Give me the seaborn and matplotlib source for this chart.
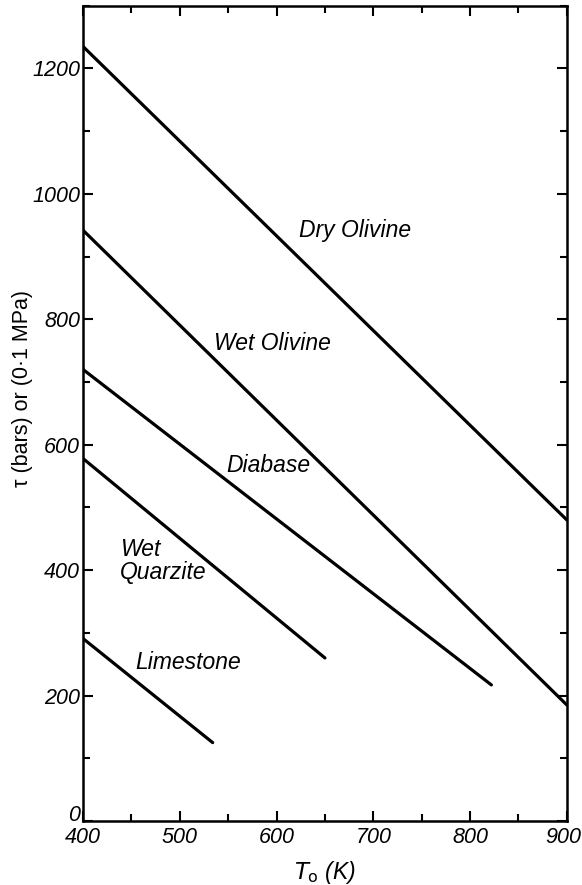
import matplotlib
matplotlib.use("Agg")
import matplotlib.pyplot as plt
from matplotlib.ticker import MultipleLocator
from matplotlib.transforms import ScaledTranslation
import seaborn as sns
import pandas as pd

# Shear stress vs. initial temperature for several rock types
materials = ["Dry Olivine", "Wet Olivine", "Diabase", "Wet Quarzite", "Limestone"]
t_start = [400, 400, 400, 400, 400]
t_end = [900, 900, 822, 650, 534]
tau_start = [1235, 942, 720, 578, 291]
tau_end = [480, 185, 217, 260, 125]

# Label anchor points (data coordinates)
label_text = ["Dry Olivine", "Wet Olivine", "Diabase", "Wet\nQuarzite", "Limestone"]
label_x = [681, 596, 592, 438, 509]
label_y = [942, 762, 567, 415, 253]
label_ha = ["center", "center", "center", "left", "center"]

x_ticks = [400, 500, 600, 700, 800, 900]
y_ticks = [0, 200, 400, 600, 800, 1000, 1200]

rows = []
for m, x0, x1, y0, y1 in zip(materials, t_start, t_end, tau_start, tau_end):
    rows.append({"material": m, "T": x0, "tau": y0})
    rows.append({"material": m, "T": x1, "tau": y1})
df = pd.DataFrame(rows)

sns.set_style("ticks")
fam = ["Liberation Sans", "DejaVu Sans"]
plt.rcParams["font.family"] = fam
for key in ("text.color", "axes.labelcolor", "xtick.color", "ytick.color",
            "axes.edgecolor"):
    plt.rcParams[key] = "black"

fig = plt.figure(figsize=(5.82, 8.85), dpi=100)
ax = fig.add_axes([0.1426, 0.0723, 0.8314, 0.9213])

sns.lineplot(data=df, x="T", y="tau", hue="material", hue_order=materials,
             palette=["black"] * len(materials), linewidth=2.3,
             legend=False, ax=ax, sort=False, estimator=None)

for txt, x, y, ha in zip(label_text, label_x, label_y, label_ha):
    ax.text(x, y, txt, ha=ha, va="center", fontsize=16.5, style="italic",
            family=fam, linespacing=1.0)

ax.set_xlim(400, 900)
ax.set_ylim(0, 1300)
ax.set_xticks(x_ticks)
ax.set_yticks(y_ticks)
ax.xaxis.set_minor_locator(MultipleLocator(50))
ax.yaxis.set_minor_locator(MultipleLocator(100))
ax.tick_params(which="both", direction="in", top=True, right=True,
               width=1.5, color="black")
ax.tick_params(which="major", length=7, labelsize=15.5)
ax.tick_params(which="minor", length=5)
ax.tick_params(axis="y", which="major", pad=2)
ax.tick_params(axis="x", which="major", pad=4)
for lbl in ax.get_xticklabels() + ax.get_yticklabels():
    lbl.set_style("italic")

# lift the "0" label so it sits above the corner
zero_lbl = ax.get_yticklabels()[0]
zero_lbl.set_transform(zero_lbl.get_transform()
                       + ScaledTranslation(0, 8 / 100, fig.dpi_scale_trans))
# keep the last x label inside the figure edge
last_lbl = ax.get_xticklabels()[-1]
last_lbl.set_transform(last_lbl.get_transform()
                       + ScaledTranslation(-4 / 100, 0, fig.dpi_scale_trans))

for s in ax.spines.values():
    s.set_linewidth(1.8)

ax.set_xlabel(r"$T_{\rm o}$ (K)", fontsize=16.5, style="italic")
ax.set_ylabel("τ (bars) or (0·1 MPa)", fontsize=15.5)
ax.xaxis.set_label_coords(0.5, -0.047)
ax.yaxis.set_label_coords(-0.103, 0.531)

fig.savefig("out.png", dpi=100)
